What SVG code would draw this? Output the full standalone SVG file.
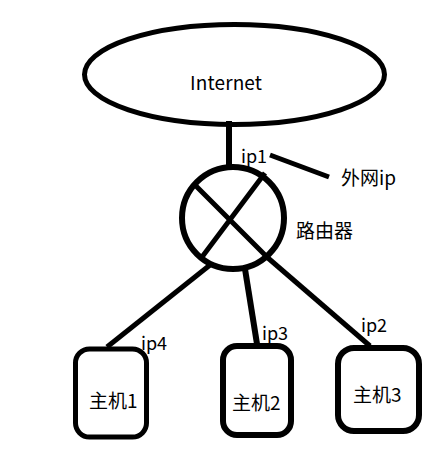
<svg xmlns="http://www.w3.org/2000/svg" width="444" height="455" viewBox="0 0 444 455">
<style>
.s{fill:none;stroke:#000;stroke-width:5}
.w{stroke-width:6}
.t{font-family:"Noto Sans CJK SC","Noto Sans",sans-serif;font-size:19px;fill:#000}
.m{font-size:18px}
</style>
<rect width="444" height="455" fill="#fff"/>
<g id="connectors" class="s">
<path class="w" d="M229 121V165"/>
<path d="M270 155L329 177"/>
<path d="M210 265L107 347"/>
<path class="w" d="M245 269L257 344"/>
<path d="M268 258L370 346"/>
</g>
<g id="internet"><ellipse class="s" cx="234.500" cy="74.500" rx="150" ry="50"/><text class="t" x="190" y="90" textLength="72">Internet</text></g>
<g id="router"><circle class="s w" cx="233" cy="218" r="51"/><path class="s" d="M193 183L268 258M265 173L202 257"/><text class="t" x="296" y="238">路由器</text></g>
<g id="host1"><rect class="s" x="75.500" y="349" width="71" height="88" rx="14"/><text class="t" x="89" y="408">主机1</text></g>
<g id="host2"><rect class="s w" x="223" y="346" width="68" height="89" rx="14"/><text class="t" x="232" y="410">主机2</text></g>
<g id="host3"><rect class="s w" x="338" y="348" width="81" height="83" rx="16"/><text class="t" x="353" y="402">主机3</text></g>
<g id="labels">
<text class="t m" x="241" y="163">ip1</text>
<text class="t" x="341" y="185" textLength="55">外网ip</text>
<text class="t m" x="141" y="350">ip4</text>
<text class="t m" x="262" y="340">ip3</text>
<text class="t m" x="361" y="332">ip2</text>
</g>
</svg>
